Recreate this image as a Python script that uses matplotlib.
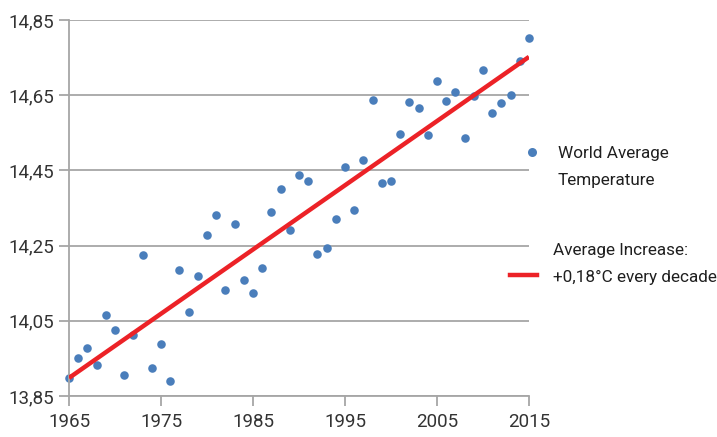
import numpy as np
import matplotlib
matplotlib.use('Agg')
import matplotlib.pyplot as plt
from matplotlib.lines import Line2D

years = list(range(1965, 2016))
temps = [13.898, 13.951, 13.978, 13.932, 14.065, 14.026, 13.906, 14.012, 14.225, 13.924,
         13.988, 13.890, 14.185, 14.073, 14.169, 14.278, 14.331, 14.132, 14.307, 14.158,
         14.124, 14.190, 14.339, 14.400, 14.291, 14.438, 14.422, 14.228, 14.244, 14.321,
         14.459, 14.345, 14.478, 14.637, 14.416, 14.422, 14.547, 14.632, 14.616, 14.544,
         14.688, 14.635, 14.659, 14.536, 14.648, 14.717, 14.603, 14.629, 14.650, 14.741,
         14.802]
trend_start = 13.898
trend_end = 14.752
y_ticks = [13.85, 14.05, 14.25, 14.45, 14.65, 14.85]
x_ticks = [1965, 1975, 1985, 1995, 2005, 2015]

plt.rcParams['font.family'] = ['Roboto', 'DejaVu Sans']

fig = plt.figure(figsize=(7.17, 4.37), dpi=100)
ax = fig.add_axes([69 / 717, 41 / 437, 460 / 717, 376 / 437])

ax.plot([years[0], years[-1]], [trend_start, trend_end], color='#ec2227', lw=3.2,
        solid_capstyle='butt', zorder=3)
ax.scatter(years, temps, s=38, color='#4a7ebb', zorder=2, linewidths=0, clip_on=False)

ax.set_xlim(1965, 2015)
ax.set_ylim(13.85, 14.85)
ax.set_yticks(y_ticks)
ax.set_yticklabels([f'{v:.2f}'.replace('.', ',') for v in y_ticks])
ax.set_xticks(x_ticks)
ax.set_xticklabels([str(v) for v in x_ticks])
ax.yaxis.grid(True, color='#a6a6a6', lw=1.3)
ax.set_axisbelow(True)
for s in ['top', 'right']:
    ax.spines[s].set_visible(False)
for s in ['left', 'bottom']:
    ax.spines[s].set_color('#a6a6a6')
    ax.spines[s].set_linewidth(1.3)
ax.tick_params(axis='both', colors='#a6a6a6', labelcolor='#333333', labelsize=13.5,
               length=7, width=1.3)
ax.tick_params(axis='x', pad=5)
ax.tick_params(axis='y', pad=4)

# legend drawn by hand
fig.add_artist(Line2D([532 / 717], [1 - 152 / 437], marker='o', color='#4a7ebb',
                      markersize=6.5, markeredgewidth=0, transform=fig.transFigure))
fig.text(558 / 717, 1 - 167 / 437, 'World Average\nTemperature', fontsize=12.3,
         color='#1f1f1f', va='center', ha='left', linespacing=1.95)
fig.add_artist(Line2D([510 / 717, 537 / 717], [1 - 275 / 437, 1 - 275 / 437],
                      color='#ec2227', lw=3.2, transform=fig.transFigure))
fig.text(553 / 717, 1 - 264 / 437, 'Average Increase:\n+0,18°C every decade', fontsize=12.3,
         color='#1f1f1f', va='center', ha='left', linespacing=1.95)

fig.savefig('out.png', dpi=100)
